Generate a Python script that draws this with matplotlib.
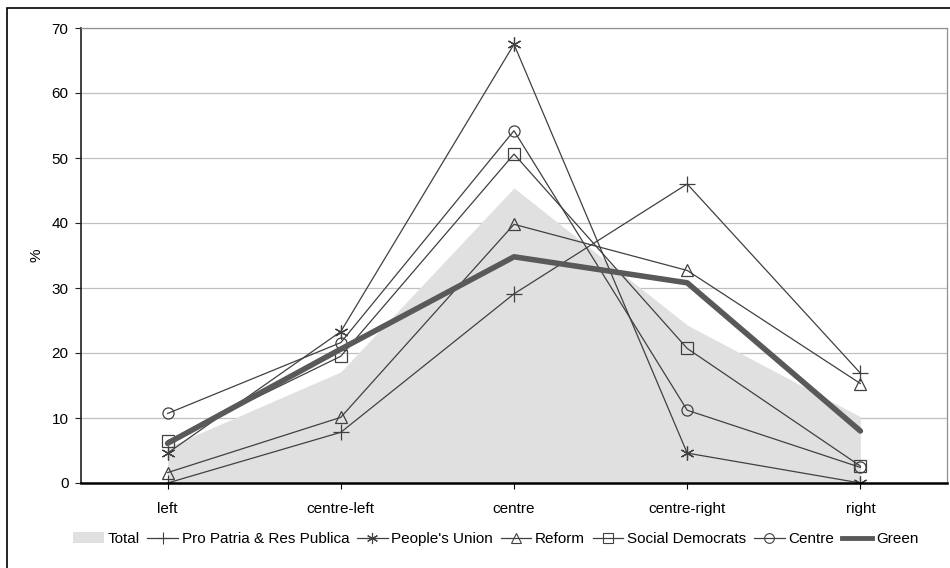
import matplotlib
matplotlib.use("Agg")
import matplotlib.pyplot as plt
from matplotlib.patches import Rectangle, Patch

plt.rcParams['font.family'] = ['Liberation Sans', 'DejaVu Sans']

categories = ['left', 'centre-left', 'centre', 'centre-right', 'right']
total = [5.5, 17.1, 45.4, 24.3, 10.2]
pro_patria = [0.0, 7.8, 29.1, 46.0, 16.9]
peoples_union = [4.6, 23.3, 67.5, 4.6, 0.0]
reform = [1.6, 10.1, 39.8, 32.7, 15.3]
social_democrats = [6.5, 19.5, 50.6, 20.7, 2.6]
centre = [10.7, 21.6, 54.2, 11.2, 2.4]
green = [6.1, 20.6, 34.8, 30.8, 8.0]

x = list(range(len(categories)))
dark = '#404040'

fig = plt.figure(figsize=(9.5, 5.68), dpi=100)
ax = fig.add_axes([81 / 950, 1 - 483 / 568, 866 / 950, 455 / 568])

ax.fill_between(x, 0, total, color='#e0e0e0', linewidth=0, zorder=1)

common = dict(color=dark, linewidth=0.9, markerfacecolor='none',
              markeredgecolor=dark, markeredgewidth=0.9, zorder=3)
ax.plot(x, pro_patria, marker='+', markersize=11, **common)
ax.plot(x, peoples_union, marker=(6, 2, 0), markersize=10, **common)
ax.plot(x, reform, marker='^', markersize=9, **common)
ax.plot(x, social_democrats, marker='s', markersize=9, **common)
ax.plot(x, centre, marker='o', markersize=8, **common)
ax.plot(x, green, color='#595959', linewidth=4, zorder=4, solid_capstyle='round')

ax.set_xlim(-0.5, 4.5)
ax.set_ylim(0, 70)
ax.set_yticks(range(0, 71, 10))
ax.set_xticks(x)
ax.set_xticklabels(categories, fontsize=11)
ax.tick_params(axis='y', labelsize=11, length=4, width=0.8, color='#202020', pad=5)
ax.tick_params(axis='x', length=4, width=0.8, pad=10)
ax.grid(axis='y', color='#c0c0c0', linewidth=0.9, zorder=0)
ax.set_axisbelow(True)
ax.set_ylabel('%', fontsize=11, labelpad=6)

for side in ['top', 'right']:
    ax.spines[side].set_color('#909090')
    ax.spines[side].set_linewidth(0.9)
ax.spines['left'].set_color('#202020')
ax.spines['left'].set_linewidth(1.2)
ax.spines['bottom'].set_color('black')
ax.spines['bottom'].set_linewidth(1.8)
ax.spines['bottom'].set_zorder(5)

handles = [Patch(facecolor='#e0e0e0', edgecolor='none')]
labels = ['Total', 'Pro Patria & Res Publica', "People's Union", 'Reform',
          'Social Democrats', 'Centre', 'Green']
for mk, ms in [('+', 9), ((6, 2, 0), 8), ('^', 7), ('s', 7), ('o', 7)]:
    handles.append(plt.Line2D([], [], color=dark, linewidth=0.9, marker=mk,
                              markersize=ms, markerfacecolor='none',
                              markeredgecolor=dark, markeredgewidth=0.8))
handles.append(plt.Line2D([], [], color='#595959', linewidth=3.5))
fig.legend(handles, labels, loc='center', bbox_to_anchor=(496 / 950, 1 - 539 / 568),
           ncol=7, frameon=False, fontsize=11, handlelength=2.0,
           handletextpad=0.25, columnspacing=0.5, borderaxespad=0)

fig.patches.append(Rectangle((7 / 950, -0.1), 1.1, 1 - 8 / 568 + 0.1,
                             transform=fig.transFigure, fill=False,
                             edgecolor='black', linewidth=1.2))

fig.savefig('out.png', dpi=100)
